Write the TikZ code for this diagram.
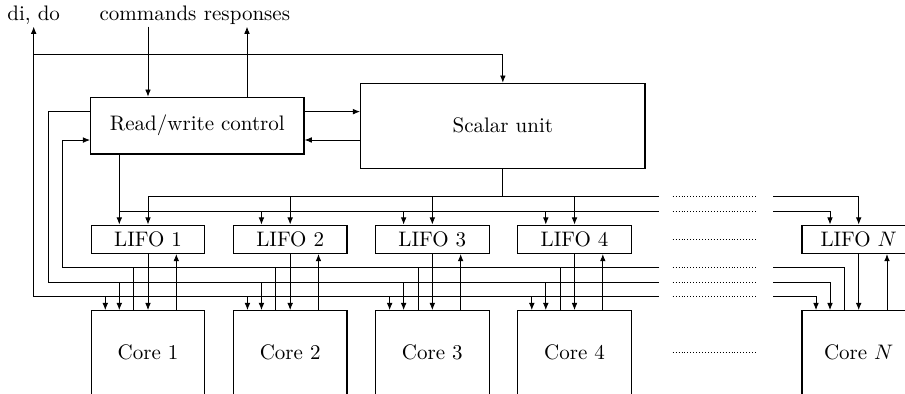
\documentclass[tikz,border=0pt]{standalone}
\usetikzlibrary{calc,arrows.meta}
\begin{document}
\begin{tikzpicture}[x=0.476pt,y=-0.476pt,>={Latex[length=3.4pt,width=2.7pt]},
  box/.style={draw,semithick,inner sep=0pt},
  lifo/.style={box,minimum width=54.07pt,minimum height=13.47pt},
  corebox/.style={box,minimum width=54.07pt,minimum height=39.98pt},
  lbl/.style={inner sep=0pt,text depth=2.86pt,anchor=south},
  gap/.style={densely dotted,thin}]
\useasboundingbox (0,0) rectangle (905,394);
\fill[white] (0,0) rectangle (905,394);
\clip (0,0) rectangle (905,394);
% bus levels
\coordinate (busA) at (0,196.7);
\coordinate (busB) at (0,211);
\coordinate (busD) at (0,267.7);
\coordinate (busE) at (0,282.3);
\coordinate (busF) at (0,296.3);
\coordinate (top) at (0,54.3);
% labels
\node[lbl] (dido) at (33.7,26.7) {di, do};
\node[lbl] (cmd) at (148,26.7) {commands};
\node[lbl] (resp) at (247,26.7) {responses};
% main boxes
\node[box,minimum width=101.53pt,minimum height=26.99pt] (rw) at (197.35,125.65) {Read/write control};
\node[box,minimum width=135.33pt,minimum height=40.46pt] (su) at (502.85,125.8) {Scalar unit};
% columns
\foreach \i in {1,...,4}{
  \pgfmathsetmacro\c{148+142.17*(\i-1)}
  \node[lifo] (l\i) at (\c,239.3) {LIFO \i};
  \node[corebox] (c\i) at (\c,352.7) {Core \i};
  \draw[->] (l\i.south) -- (c\i.north);
  \draw[->] ($(c\i.north)+(28.3,0)$) coordinate (u) -- (u |- l\i.south);
  \draw[<-] ($(c\i.north)+(-42.7,0)$) coordinate (u) -- (u |- busF);
  \draw[<-] ($(c\i.north)+(-28.7,0)$) coordinate (u) -- (u |- busE);
  \draw ($(c\i.north)+(-14.3,0)$) coordinate (u) -- (u |- busD);
  \draw[<-] (l\i.north) -- (l\i.north |- busA);
  \draw[<-] ($(l\i.north)+(-28.7,0)$) coordinate (u) -- (u |- busB);
}
\node[lifo] (lN) at (858.7,239.3) {LIFO $N$};
\node[corebox] (cN) at (858.7,352.7) {Core $N$};
\draw[->] (lN.south) -- (cN.north);
\draw[->] ($(cN.north)+(28.3,0)$) coordinate (u) -- (u |- lN.south);
% top connections
\draw[->] (cmd.south) -- (cmd.south |- rw.north);
\draw[->] (resp.south |- rw.north) -- (resp.south);
\draw[<-] (dido.south) -- (dido.south |- busF) -- (659.3,0 |- busF);
\draw[->] (dido.south |- top) -| (su.north);
\draw[->] ($(rw.east)+(0,-14)$) coordinate (t1) -- (t1 -| su.west);
\draw[->] ($(su.west)+(0,14.2)$) coordinate (t2) -- (t2 -| rw.east);
% buses
\draw ($(rw.west)+(0,-14.6)$) -| (48.3,0 |- busE) -- (659.3,0 |- busE);
\draw[->] (659.3,0 |- busD) -- (62.3,0 |- busD) |- ($(rw.west)+(0,14.4)$);
\draw (rw.south -| 119.3,0) -- (119.3,0 |- busB) -- (659.3,0 |- busB);
\draw (su.south) -- (su.south |- busA);
\draw (148,0 |- busA) -- (659.3,0 |- busA);
% continuation to column N
\draw[->] (773,0 |- busA) -| (lN.north);
\draw[->] (773,0 |- busB) -| ($(lN.north)+(-28.7,0)$);
\draw (773,0 |- busD) -| ($(cN.north)+(-14.3,0)$);
\draw[->] (773,0 |- busE) -| ($(cN.north)+(-28.7,0)$);
\draw[->] (773,0 |- busF) -| ($(cN.north)+(-42.7,0)$);
% gaps
\foreach \y in {196.7,211,239.3,267.7,282.3,296.3,352.7}
  \draw[gap] (672.7,\y) -- (756.7,\y);
\end{tikzpicture}
\end{document}
